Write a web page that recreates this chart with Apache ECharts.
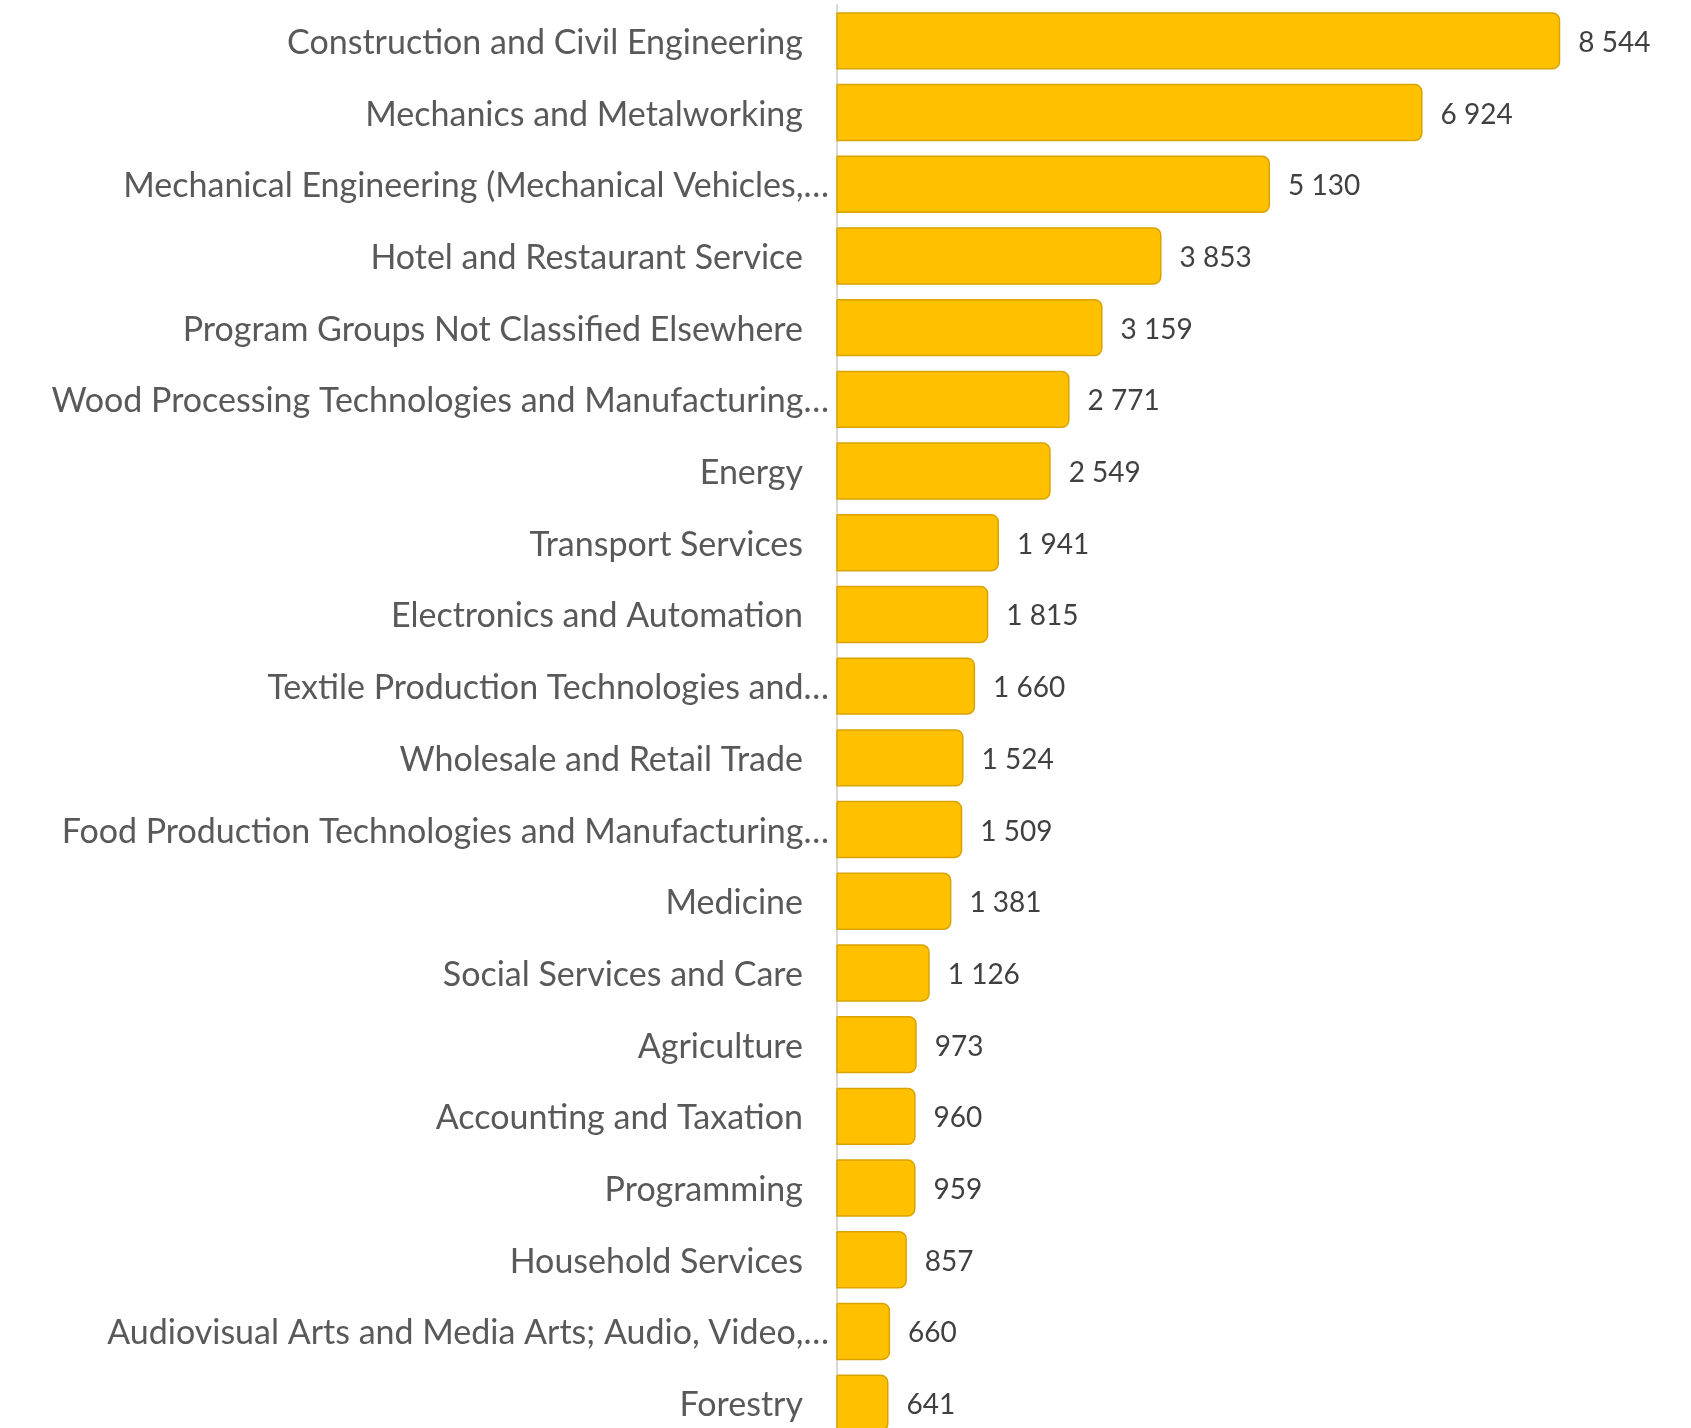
<!DOCTYPE html>
<html><head><meta charset="utf-8">
<script src="https://cdn.jsdelivr.net/npm/echarts@6/dist/echarts.min.js"></script>
<style>html,body{margin:0;padding:0;background:#fff;overflow:hidden}#c{width:1691px;height:1445px}</style>
</head><body><div id="c"></div>
<script>
const categories = [
  "Construction and Civil Engineering",
  "Mechanics and Metalworking",
  "Mechanical Engineering (Mechanical Vehicles,…",
  "Hotel and Restaurant Service",
  "Program Groups Not Classified Elsewhere",
  "Wood Processing Technologies and Manufacturing…",
  "Energy",
  "Transport Services",
  "Electronics and Automation",
  "Textile Production Technologies and…",
  "Wholesale and Retail Trade",
  "Food Production Technologies and Manufacturing…",
  "Medicine",
  "Social Services and Care",
  "Agriculture",
  "Accounting and Taxation",
  "Programming",
  "Household Services",
  "Audiovisual Arts and Media Arts; Audio, Video,…",
  "Forestry"
];
const values = [8544, 6924, 5130, 3853, 3159, 2771, 2549, 1941, 1815, 1660, 1524, 1509, 1381, 1126, 973, 960, 959, 857, 660, 641];

const fmt = v => String(v).replace(/\B(?=(\d{3})+(?!\d))/g, ' ');
const chart = echarts.init(document.getElementById('c'));
chart.setOption({
  animation: false,
  grid: {left: 837, right: 7, top: 5, height: 1434},
  xAxis: {type: 'value', min: 35, max: 10000, show: false},
  yAxis: {
    type: 'category', data: categories, inverse: true,
    axisLine: {show: true, onZero: false, lineStyle: {color: '#D9D9D9', width: 2}},
    axisTick: {show: false},
    axisLabel: {
      margin: 8,
      formatter: v => v.endsWith('…') ? '{t|' + v + '}' : '{n|' + v + '}',
      rich: {
        t: {fontFamily: 'Lato', fontSize: 34, color: '#595959', padding: [4, 0, 0, 0]},
        n: {fontFamily: 'Lato', fontSize: 34, color: '#595959', padding: [4, 26, 0, 0]}
      }
    }
  },
  series: [{
    type: 'bar', data: values, barCategoryGap: '20%', clip: true,
    itemStyle: {color: '#FFC000', borderColor: '#D9A300', borderWidth: 1.5, borderRadius: [0, 7, 7, 0]},
    label: {show: true, position: 'right', distance: 18, offset: [0, 2], formatter: p => fmt(p.value),
      fontFamily: 'Lato', fontSize: 28, color: '#404040'}
  }]
});
</script></body></html>
